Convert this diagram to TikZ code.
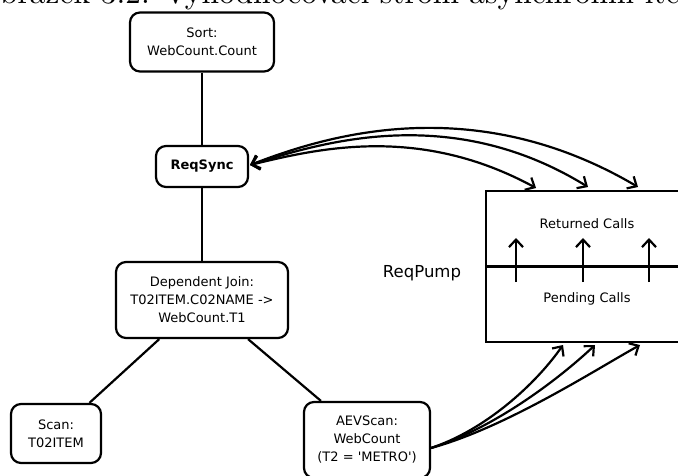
\documentclass[tikz,border=0pt]{standalone}
\usepackage{fontspec}
\newfontfamily\dejavu{DejaVu Sans}
\usetikzlibrary{arrows.meta}
\begin{document}
\begin{tikzpicture}[x=1pt,y=-1pt,
  >={Straight Barb[length=7.5pt,width=14pt]},
  box/.style={draw, line width=2.2pt, rounded corners=10pt, align=center,
    font=\dejavu\fontsize{13}{18}\selectfont, inner sep=0pt},
  conn/.style={line width=2.2pt},
  lbl/.style={font=\dejavu\fontsize{13}{18}\selectfont, inner sep=0pt}]
\useasboundingbox (0,0) rectangle (678,476);
\clip (0,0) rectangle (678,476);

% cut-off caption
\node[anchor=base west, scale=3.15, transform shape, font=\fontsize{10}{12}\selectfont, inner sep=0pt] (cap) at (-25,4)
  {Obrázek 3.2: Vyhodnocovací strom asynchronní iterace};

% tree nodes
\node[box, minimum width=144pt, minimum height=59pt] (sort) at (202,42) {Sort:\\WebCount.Count};
\node[box, minimum width=92pt, minimum height=41pt, font=\dejavu\bfseries\fontsize{13}{18}\selectfont] (rs) at (202,166.5) {ReqSync};
\node[box, minimum width=172pt, minimum height=76pt] (dj) at (202,300) {Dependent Join:\\T02ITEM.C02NAME ->\\WebCount.T1};
\node[box, minimum width=90pt, minimum height=59pt] (scan) at (56,433.5) {Scan:\\T02ITEM};
\node[box, minimum width=126pt, minimum height=76pt] (aev) at (367,440) {AEVScan:\\WebCount\\(T2 = \textquotesingle METRO\textquotesingle)};

\draw[conn] (sort) -- (rs);
\draw[conn] (rs) -- (dj);
\draw[conn] (dj) -- (scan);
\draw[conn] (dj) -- (aev);

% ReqPump
\node[draw, line width=2.2pt, minimum width=204pt, minimum height=151pt, inner sep=0pt] (pump) at (588,266.5) {};
\draw[conn] (pump.west) -- (pump.east);
\node[lbl] (ret) at (587,224) {Returned Calls};
\node[lbl] (pen) at (587,299) {Pending Calls};
\node[font=\dejavu\fontsize{16.5}{20}\selectfont, inner sep=0pt] (rp) at (422,273) {ReqPump};

\coordinate (u1b) at (516,282); \coordinate (u1t) at (516,238);
\coordinate (u2b) at (583,282); \coordinate (u2t) at (583,238);
\coordinate (u3b) at (649,282); \coordinate (u3t) at (649,238);
\draw[conn,->] (u1b) -- (u1t);
\draw[conn,->] (u2b) -- (u2t);
\draw[conn,->] (u3b) -- (u3t);

% top curves ReqSync <-> Returned Calls
\coordinate (rsA) at (250,165);
\coordinate (t1) at (536,188);
\coordinate (t2) at (588,187);
\coordinate (t3) at (638,187);
\draw[conn,<->] (rsA) .. controls (320,148) and (420,125) .. (t1);
\draw[conn,<->] (rsA) .. controls (320,143) and (450,102) .. (t2);
\draw[conn,<->] (rsA) .. controls (320,138) and (470,88) .. (t3);

% bottom curves AEVScan -> Pending Calls
\coordinate (a0) at (431,448);
\coordinate (b1) at (563,345);
\coordinate (b2) at (595,345);
\coordinate (b3) at (640,345);
\draw[conn,->] (a0) .. controls (485,430) and (535,385) .. (b1);
\draw[conn,->] (a0) .. controls (495,428) and (560,378) .. (b2);
\draw[conn,->] (a0) .. controls (505,428) and (595,370) .. (b3);
\end{tikzpicture}
\end{document}
